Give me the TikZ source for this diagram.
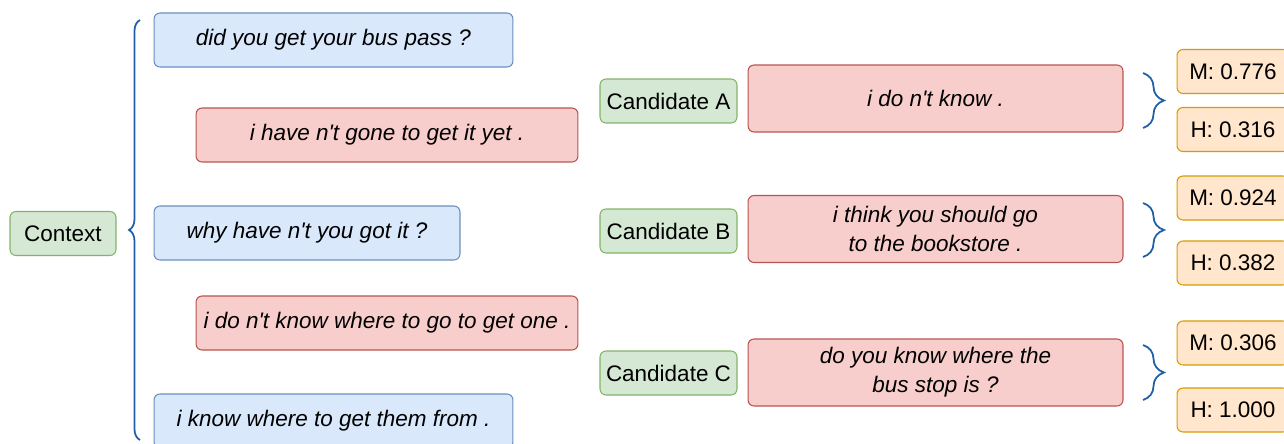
\documentclass[tikz,border=0pt]{standalone}
\usepackage{fontspec}
\setmainfont{Liberation Sans}[Ligatures=TeXOff]
\usetikzlibrary{decorations.pathreplacing}
\definecolor{ctxfill}{HTML}{DAE8FC}
\definecolor{ctxdraw}{HTML}{6C8EBF}
\definecolor{respfill}{HTML}{F8CECC}
\definecolor{respdraw}{HTML}{B85450}
\definecolor{labfill}{HTML}{D5E8D4}
\definecolor{labdraw}{HTML}{82B366}
\definecolor{scorefill}{HTML}{FFE6CC}
\definecolor{scoredraw}{HTML}{D79B00}
\definecolor{bracecol}{HTML}{1F5FA8}
\begin{document}
\begin{tikzpicture}[x=0.02cm, y=-0.02cm]


\tikzset{box/.style={shape=rectangle, rounded corners=0.12cm, inner sep=0, line width=0.6, align=center, font=\fontsize{12.8}{16.4}\selectfont}}
\tikzset{label/.style={box, fill=labfill, draw=labdraw, minimum height=0.88cm}}
\tikzset{turn/.style={box, fill=ctxfill, draw=ctxdraw, minimum height=1.08cm, font=\fontsize{12.8}{16.4}\selectfont\itshape}}
\tikzset{reply/.style={box, fill=respfill, draw=respdraw, minimum height=1.08cm, font=\fontsize{12.8}{16.4}\selectfont\itshape}}
\tikzset{cand/.style={reply, minimum width=7.5cm, minimum height=1.34cm}}
\tikzset{score/.style={box, fill=scorefill, draw=scoredraw, minimum width=2.24cm, minimum height=0.88cm}}
\tikzset{curly/.style={draw=bracecol, line width=1, decorate, decoration={brace, amplitude=#1}}}
\useasboundingbox (0,0) rectangle (1284,443);
\node[label, minimum width=2.12cm] (context) at (63,233.5) {Context};
\node[turn, minimum width=7.18cm] (u1) at (333.5,40) {did you get your bus pass ?};
\node[reply, minimum width=7.64cm] (u2) at (387,135) {i have n't gone to get it yet .};
\node[turn, minimum width=6.12cm] (u3) at (307,233) {why have n't you got it ?};
\node[reply, minimum width=7.64cm] (u4) at (387,323) {i do n't know where to go to get one .};
\node[turn, minimum width=7.18cm] (u5) at (333.5,421) {i know where to get them from .};
\node[label, minimum width=2.74cm] (candA) at (668.5,101) {Candidate A};
\node[label, minimum width=2.74cm] (candB) at (668.5,231) {Candidate B};
\node[label, minimum width=2.74cm] (candC) at (668.5,373) {Candidate C};
\node[cand] (respA) at (935.5,98.5) {i do n't know .};
\node[cand] (respB) at (935.5,229) {i think you should go\\to the bookstore .};
\node[cand] (respC) at (935.5,372.5) {do you know where the\\bus stop is ?};
\node[score] (mA) at (1233,71.5) {M: 0.776};
\node[score] (hA) at (1233,129.5) {H: 0.316};
\node[score] (mB) at (1233,198) {M: 0.924};
\node[score] (hB) at (1233,263) {H: 0.382};
\node[score] (mC) at (1233,343) {M: 0.306};
\node[score] (hC) at (1233,410) {H: 1.000};
\coordinate (ctxtop) at (140,20);
\coordinate (ctxbot) at (140,440);
\coordinate (atop) at (1143,73);
\coordinate (abot) at (1143,128);
\coordinate (btop) at (1143,203);
\coordinate (bbot) at (1143,257);
\coordinate (ctop) at (1143,345);
\coordinate (cbot) at (1143,400);
\draw[curly=0.22cm] (ctxbot) -- (ctxtop);
\draw[curly=0.42cm] (atop) -- (abot);
\draw[curly=0.42cm] (btop) -- (bbot);
\draw[curly=0.42cm] (ctop) -- (cbot);

\end{tikzpicture}
\end{document}
